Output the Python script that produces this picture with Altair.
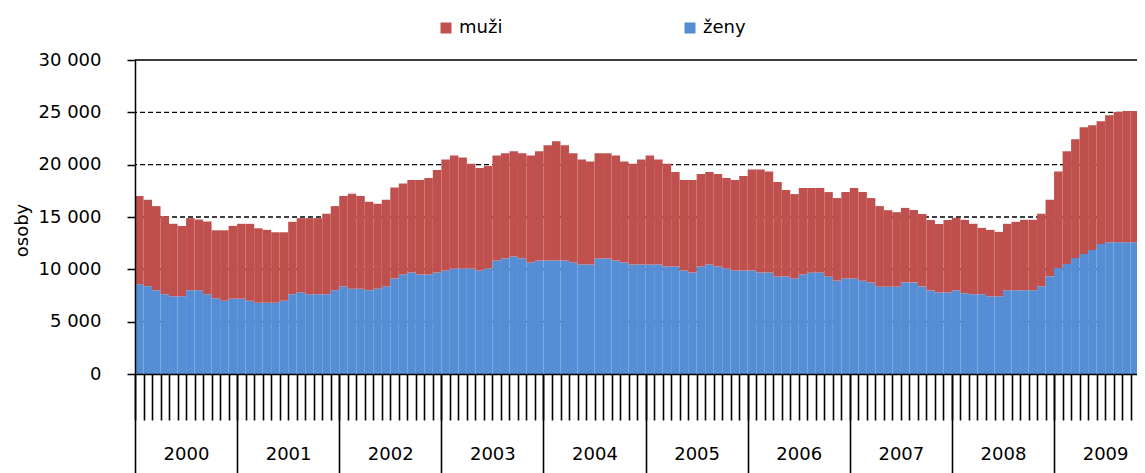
import altair as alt
import pandas as pd

# ---- data (monthly, Jan 2000 .. Nov 2009) ----
years = ["2000", "2001", "2002", "2003", "2004", "2005", "2006", "2007", "2008", "2009"]
series = ["muži", "ženy"]
y_ticks = [0, 5000, 10000, 15000, 20000, 25000, 30000]

zeny = [
    8580, 8390, 8000, 7620, 7420, 7420, 8000, 8000, 7620, 7230, 7000, 7200,        # 2000
    7200, 7000, 6810, 6810, 6810, 7000, 7620, 7810, 7620, 7620, 7620, 8000,        # 2001
    8350, 8150, 8150, 8000, 8150, 8350, 9120, 9500, 9690, 9500, 9500, 9690,        # 2002
    9890, 10080, 10080, 10080, 9890, 10080, 10850, 11040, 11230, 11040, 10650, 10850,  # 2003
    10850, 10850, 10850, 10650, 10460, 10460, 11040, 11040, 10850, 10650, 10460, 10460,  # 2004
    10460, 10460, 10270, 10270, 9890, 9690, 10270, 10460, 10270, 10080, 9890, 9890,   # 2005
    9890, 9690, 9690, 9310, 9310, 9120, 9500, 9690, 9690, 9310, 8920, 9120,        # 2006
    9120, 8920, 8730, 8350, 8350, 8350, 8750, 8750, 8370, 7980, 7790, 7790,        # 2007
    8000, 7710, 7620, 7620, 7420, 7420, 8000, 8000, 8000, 8000, 8390, 9350,        # 2008
    10120, 10500, 11080, 11460, 11850, 12420, 12580, 12580, 12580, 12580, 12580,   # 2009
]
muzi = [
    8420, 8260, 8040, 7460, 6930, 6730, 6890, 6760, 6950, 6500, 6730, 6950,        # 2000
    7150, 7350, 7110, 6960, 6730, 6540, 6920, 7080, 7270, 7270, 7690, 8040,        # 2001
    8650, 9080, 8850, 8460, 8120, 8300, 8690, 8690, 8850, 9040, 9230, 9810,        # 2002
    10610, 10800, 10610, 10000, 9800, 9800, 10030, 10040, 10040, 10040, 10230, 10420,  # 2003
    11000, 11380, 11000, 10430, 10040, 9850, 10040, 10040, 10030, 9660, 9620, 10040,  # 2004
    10420, 10040, 9810, 9040, 8650, 8850, 8850, 8850, 8850, 8650, 8650, 9030,      # 2005
    9650, 9850, 9660, 9040, 8270, 8070, 8270, 8080, 8080, 8070, 7890, 8260,        # 2006
    8650, 8460, 8080, 7690, 7300, 7110, 7120, 6920, 6920, 6730, 6540, 6920,        # 2007
    6920, 7020, 6730, 6340, 6350, 6160, 6350, 6540, 6730, 6730, 6920, 7300,        # 2008
    9230, 10770, 11340, 12120, 11920, 11730, 12150, 12440, 12540, 12540, 12730,    # 2009
]

RED = "#C0504D"
BLUE = "#558ED5"
FONT = "DejaVu Sans"
FS = 18

# ---- long table (stacked: ženy at bottom, muži on top) ----
rows = []
for i, (z, m) in enumerate(zip(zeny, muzi)):
    rows.append({"m": i, "m2": i + 1, "serie": "ženy", "y0": 0, "y1": z})
    rows.append({"m": i, "m2": i + 1, "serie": "muži", "y0": z, "y1": z + m})
df = pd.DataFrame(rows)

year_starts = [12 * k for k in range(len(years))]
years_df = pd.DataFrame({"start": year_starts, "label": years})
month_ticks = list(range(0, len(zeny)))

W, H = 1002, 314
XMAX = W / 8.51
xscale = alt.Scale(domain=[0, XMAX], nice=False, zero=False)
yscale = alt.Scale(domain=[0, 30000], nice=False, zero=True)


def y_axis():
    return alt.Axis(
        orient="left", values=y_ticks,
        labelExpr="replace(format(datum.value, ','), ',', ' ')",
        labelFont=FONT, labelFontSize=FS, labelColor="black",
        tickSize=8, tickWidth=1.5, tickColor="black", domainColor="black",
        domainWidth=1.5, labelPadding=26, grid=False, zindex=1,
        title="osoby", titleX=-104, titleY=170, titleFontWeight="normal",
        titleFont=FONT, titleFontSize=FS, titleColor="black",
    )


grid = alt.Chart(pd.DataFrame({"v": y_ticks[1:-1]})).mark_rule(
    color="black", strokeDash=[5, 3], strokeWidth=1.4
).encode(y=alt.Y("v:Q", scale=yscale, axis=y_axis()))

top_line = alt.Chart(pd.DataFrame({"v": y_ticks[-1:]})).mark_rule(
    color="black", strokeWidth=1.5
).encode(y=alt.Y("v:Q", scale=yscale, axis=y_axis()))

bars = alt.Chart(df).mark_bar(clip=True).encode(
    x=alt.X(
        "m:Q",
        scale=xscale,
        axis=alt.Axis(
            orient="bottom", values=month_ticks, labels=False, tickSize=46,
            tickWidth=1.6, tickColor="black", domainColor="black", domainWidth=1.5,
            grid=False, title=None, zindex=1,
        ),
    ),
    x2="m2:Q",
    y=alt.Y("y1:Q", scale=yscale, axis=y_axis()),
    y2="y0:Q",
    color=alt.Color(
        "serie:N",
        scale=alt.Scale(domain=series, range=[RED, BLUE]),
        legend=alt.Legend(
            title=None, orient="none", legendX=302, legendY=-41,
            direction="horizontal", symbolType="square", symbolSize=121,
            symbolStrokeWidth=0, labelFontSize=FS, labelFont=FONT,
            labelColor="black", columnPadding=178, labelOffset=4, padding=0,
        ),
    ),
)

label_expr = "[" + ",".join("'%s'" % y for y in years) + "][floor(datum.value / 12)]"
year_axis = alt.Chart(years_df).mark_point(opacity=0).encode(
    x=alt.X(
        "start:Q",
        scale=xscale,
        axis=alt.Axis(
            orient="bottom", values=year_starts, labelExpr=label_expr,
            labelFont=FONT, labelFontSize=FS, labelColor="black",
            tickSize=99, tickWidth=1.6, tickColor="black", labelOffset=51,
            labelPadding=-19, labelBaseline="middle", domain=False, grid=False,
            title=None, labelOverlap=False, labelFlush=False, labelBound=False,
            zindex=1,
        ),
    ),
    y=alt.value(0),
)

chart = (
    alt.layer(grid, bars, top_line, year_axis)
    .resolve_axis(x="independent")
    .properties(
        width=W, height=H,
        autosize=alt.AutoSizeParams(type="none"),
        padding={"left": 127, "top": 52, "right": 0, "bottom": 99},
    )
    .configure_view(stroke=None)
    .configure(background="white")
)

chart.save("out.html", embed_options={"renderer": "svg", "actions": False})
